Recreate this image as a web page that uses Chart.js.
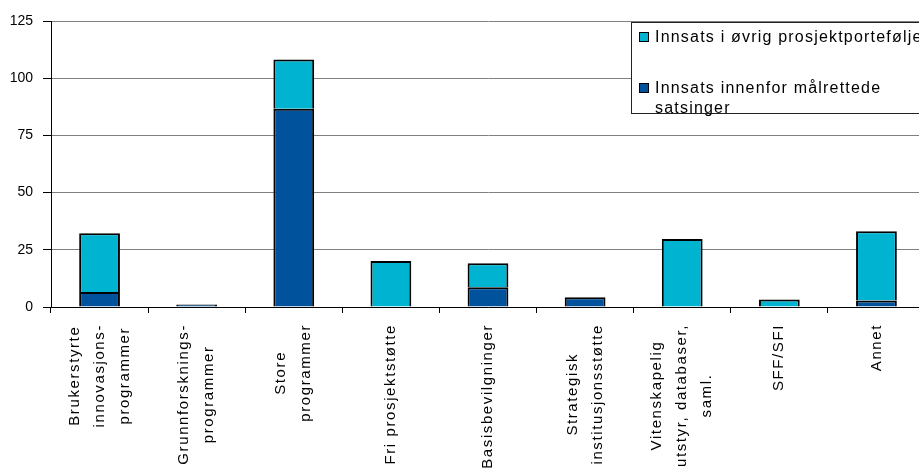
<!DOCTYPE html>
<html>
<head>
<meta charset="utf-8">
<script src="https://cdn.jsdelivr.net/npm/chart.js@4/dist/chart.umd.min.js"></script>
<style>
  html, body { margin: 0; padding: 0; background: #fff; overflow: hidden; }
  #wrap { position: relative; width: 926px; height: 468px; }
</style>
</head>
<body>
<div id="wrap"><canvas id="c"></canvas></div>
<script>
// ---- data ----
const categories = [
  ["Brukerstyrte", "innovasjons-", "programmer"],
  ["Grunnforsknings-", "programmer"],
  ["Store", "programmer"],
  ["Fri prosjektstøtte"],
  ["Basisbevilgninger"],
  ["Strategisk", "institusjonsstøtte"],
  ["Vitenskapelig", "utstyr, databaser,", "saml."],
  ["SFF/SFI"],
  ["Annet"]
];
const seriesTargetedName = ["Innsats innenfor målrettede", "satsinger"];
const seriesOtherName = ["Innsats i øvrig prosjektportefølje"];
const targetedValues = [6.6, 1.1, 86.6, null, 8.6, 4.3, null, null, 2.8];
const otherValues = [25.6, null, 21.6, 20.1, 10.5, null, 29.7, 3.3, 30.3];
const yTickValues = [0, 25, 50, 75, 100, 125];

// ---- style ----
const DARK = '#00529C';
const LIGHT = '#00B3D0';
const FONT = '"Liberation Sans", Arial, sans-serif';

const xLabelPlugin = {
  id: 'xLabels',
  afterDraw(chart) {
    const ctx = chart.ctx;
    const xs = chart.scales.x;
    const top = 324;
    const lineGap = 25;
    ctx.save();
    ctx.font = '15px ' + FONT;
    if ('letterSpacing' in ctx) ctx.letterSpacing = '1.6px';
    ctx.fillStyle = '#000';
    ctx.textAlign = 'center';
    ctx.textBaseline = 'middle';
    categories.forEach((lines, i) => {
      const cx = xs.getPixelForValue(i);
      const maxW = Math.max(...lines.map(l => ctx.measureText(l).width));
      const cy = top + maxW / 2;
      const n = lines.length;
      lines.forEach((line, j) => {
        const lx = cx + (j - (n - 1) / 2) * lineGap;
        ctx.save();
        ctx.translate(lx, cy);
        ctx.rotate(-Math.PI / 2);
        ctx.fillText(line, 0, 0);
        ctx.restore();
      });
    });
    ctx.restore();
  }
};

const legendPlugin = {
  id: 'boxLegend',
  afterDraw(chart) {
    const ctx = chart.ctx;
    ctx.save();
    ctx.fillStyle = '#fff';
    ctx.fillRect(631, 23, 400, 91);
    ctx.strokeStyle = '#222';
    ctx.lineWidth = 1;
    ctx.strokeRect(631.5, 22.5, 400, 91);
    const items = [
      { lines: seriesOtherName, color: LIGHT, y: 37 },
      { lines: seriesTargetedName, color: DARK, y: 88 }
    ];
    ctx.font = '16px ' + FONT;
    if ('letterSpacing' in ctx) ctx.letterSpacing = '1.2px';
    ctx.textAlign = 'left';
    ctx.textBaseline = 'middle';
    items.forEach(it => {
      ctx.fillStyle = it.color;
      ctx.fillRect(639, it.y - 5, 10, 10);
      ctx.strokeStyle = '#000';
      ctx.strokeRect(639.5, it.y - 4.5, 9, 9);
      ctx.fillStyle = '#000';
      it.lines.forEach((l, k) => ctx.fillText(l, 655, it.y + k * 20 + 1));
    });
    ctx.restore();
  }
};

new Chart(document.getElementById('c'), {
  type: 'bar',
  data: {
    labels: categories.map(c => c.join(' ')),
    datasets: [
      {
        label: seriesTargetedName.join(' '),
        data: targetedValues,
        backgroundColor: DARK,
        borderColor: '#000',
        borderWidth: 2
      },
      {
        label: seriesOtherName.join(' '),
        data: otherValues,
        backgroundColor: LIGHT,
        borderColor: '#000',
        borderWidth: 2
      }
    ]
  },
  options: {
    responsive: true,
    maintainAspectRatio: false,
    devicePixelRatio: 1,
    animation: false,
    layout: { padding: { top: 21, right: 1, left: 0, bottom: 0 } },
    plugins: { legend: { display: false }, tooltip: { enabled: false } },
    datasets: { bar: { categoryPercentage: 1, barPercentage: 0.42 } },
    scales: {
      x: {
        stacked: true,
        offset: true,
        grid: {
          display: true,
          offset: true,
          drawOnChartArea: false,
          drawTicks: true,
          tickLength: 6,
          tickColor: '#000',
          tickWidth: 1
        },
        border: { display: true, color: '#000', width: 1 },
        ticks: { display: false },
        afterFit(s) { s.height = 161; }
      },
      y: {
        stacked: true,
        min: 0,
        max: 125,
        afterBuildTicks(s) { s.ticks = yTickValues.map(v => ({ value: v })); },
        grid: {
          color: '#808080',
          lineWidth: 1,
          drawTicks: true,
          tickLength: 8,
          tickColor: '#000'
        },
        border: { display: true, color: '#000', width: 1 },
        ticks: {
          padding: 10,
          color: '#000',
          font: { family: FONT, size: 14 }
        },
        afterFit(s) { s.width = 51; }
      }
    }
  },
  plugins: [xLabelPlugin, legendPlugin]
});
</script>
</body>
</html>
